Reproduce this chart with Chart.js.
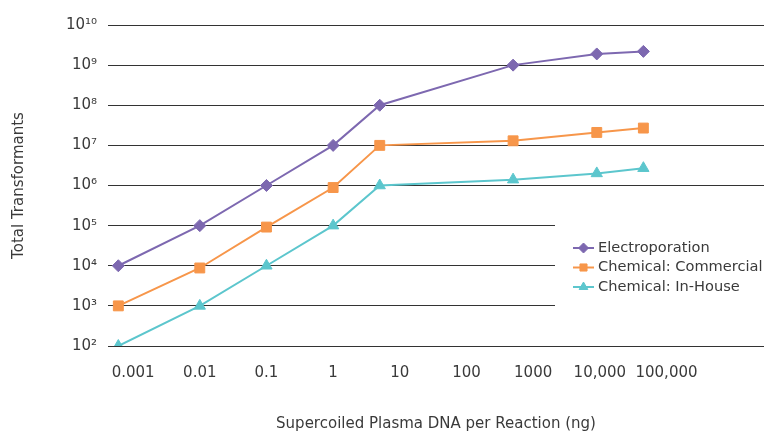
<!DOCTYPE html>
<html>
<head>
<meta charset="utf-8">
<script src="https://cdn.jsdelivr.net/npm/chart.js@4"></script>
<style>
  html, body { margin: 0; padding: 0; background: #fff; }
</style>
</head>
<body>
<canvas id="chart" width="767" height="434"></canvas>
<script>
// DNA amount per reaction (ng)
const amounts = [0.0006, 0.01, 0.1, 1, 5, 500, 9000, 45000]

const electroporation = [1e4, 1e5, 1e6, 1e7, 1e8, 1e9, 1.9e9, 2.2e9]
const chemCommercial = [1e3, 8.8e3, 9.2e4, 8.9e5, 1e7, 1.3e7, 2.1e7, 2.7e7]
const chemInHouse = [1e2, 1e3, 1e4, 1e5, 1e6, 1.4e6, 2e6, 2.7e6]

const xTicks = [0.001, 0.01, 0.1, 1, 10, 100, 1000, 10000, 100000]
const xTickLabels = ['0.001', '0.01', '0.1', '1', '10', '100', '1000', '10,000', '100,000']
const yTicks = [1e2, 1e3, 1e4, 1e5, 1e6, 1e7, 1e8, 1e9, 1e10]
const yTickLabels = ['10²', '10³', '10⁴', '10⁵', '10⁶', '10⁷', '10⁸', '10⁹', '10¹⁰']

const FONT = "'DejaVu Sans', sans-serif"
const TEXT = '#3a3a3a'

const toPoints = (ys) => ys.map((y, i) => ({ x: amounts[i], y: y }))

// legend sits inside the plot, over the grid but under the lines
const insideLegend = {
  id: 'insideLegend',
  beforeDatasetsDraw(chart, args, opts) {
    const ctx = chart.ctx
    ctx.save()
    ctx.fillStyle = '#fff'
    ctx.fillRect(opts.left, opts.top, chart.width - opts.left, opts.boxHeight)

    ctx.font = '14.6px ' + FONT
    ctx.textBaseline = 'middle'
    chart.data.datasets.forEach((ds, i) => {
      const cy = opts.firstRow + i * opts.rowHeight
      const x0 = opts.left + 18
      ctx.strokeStyle = ds.borderColor
      ctx.fillStyle = ds.backgroundColor
      ctx.lineWidth = 2
      ctx.beginPath()
      ctx.moveTo(x0, cy)
      ctx.lineTo(x0 + 21, cy)
      ctx.stroke()
      ctx.lineWidth = 1
      Chart.helpers.drawPoint(ctx, { pointStyle: ds.pointStyle, radius: 5, borderWidth: 1, rotation: 0 }, x0 + 10.5, cy)
      ctx.fillStyle = TEXT
      ctx.fillText(ds.label, x0 + 25, cy)
    })
    ctx.restore()
  }
}

const ctx = document.getElementById('chart')

new Chart(ctx, {
  type: 'line',
  data: {
    datasets: [{
      label: 'Electroporation',
      data: toPoints(electroporation),
      borderColor: '#7d68b0',
      backgroundColor: '#7d68b0',
      pointStyle: 'rectRot',
      pointRadius: 6
    }, {
      label: 'Chemical: Commercial',
      data: toPoints(chemCommercial),
      borderColor: '#f7964a',
      backgroundColor: '#f7964a',
      pointStyle: 'rect',
      pointRadius: 7
    }, {
      label: 'Chemical: In-House',
      data: toPoints(chemInHouse),
      borderColor: '#5cc6cd',
      backgroundColor: '#5cc6cd',
      pointStyle: 'triangle',
      pointRadius: 6.5
    }]
  },
  options: {
    responsive: false,
    animation: false,
    devicePixelRatio: 1,
    elements: {
      line: { borderWidth: 2, tension: 0 },
      point: { borderWidth: 1 }
    },
    layout: {
      autoPadding: false, // otherwise point radius eats into the right edge
      padding: { top: 25, right: 3, bottom: 0, left: 0 }
    },
    plugins: {
      legend: { display: false },
      tooltip: { enabled: false },
      insideLegend: { left: 555, top: 205, boxHeight: 120, firstRow: 248, rowHeight: 19.5 }
    },
    scales: {
      x: {
        type: 'logarithmic',
        min: 0.00042,
        max: 2900000,
        grid: { display: false },
        border: { display: false },
        afterBuildTicks: (scale) => {
          scale.ticks = xTicks.map(v => ({ value: v }))
        },
        afterFit: (scale) => { scale.height = 88 },
        ticks: {
          autoSkip: false,
          maxRotation: 0,
          padding: 10,
          color: TEXT,
          font: { family: FONT, size: 15 },
          callback: (value, index) => xTickLabels[index]
        },
        title: {
          display: true,
          text: 'Supercoiled Plasma DNA per Reaction (ng)',
          color: TEXT,
          font: { family: FONT, size: 15 },
          padding: { top: 0, bottom: 1 }
        }
      },
      y: {
        type: 'logarithmic',
        min: 1e2,
        max: 1e10,
        grid: { color: '#333', lineWidth: 1, drawTicks: false },
        border: { display: false },
        afterBuildTicks: (scale) => {
          scale.ticks = yTicks.map(v => ({ value: v }))
        },
        afterFit: (scale) => { scale.width = 108 },
        ticks: {
          padding: 11,
          color: TEXT,
          font: { family: FONT, size: 15 },
          callback: (value, index) => yTickLabels[index]
        },
        title: {
          display: true,
          text: 'Total Transformants',
          color: TEXT,
          font: { family: FONT, size: 15 },
          padding: { top: 10, bottom: 0 }
        }
      }
    }
  },
  plugins: [insideLegend]
})
</script>
</body>
</html>
